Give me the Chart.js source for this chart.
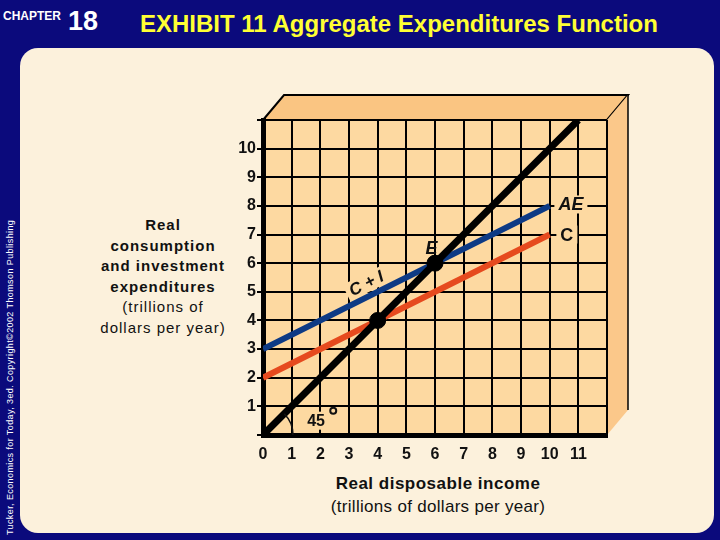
<!DOCTYPE html>
<html>
<head>
<meta charset="utf-8">
<script src="https://cdn.jsdelivr.net/npm/chart.js@4.4.1/dist/chart.umd.min.js"></script>
<style>
  body { margin:0; width:720px; height:540px; background:#0b0a7c; position:relative; overflow:hidden;
         font-family:"Liberation Sans", Arial, sans-serif; }
  .panel { position:absolute; left:20px; top:48px; width:694px; height:485px; background:#fcf1dc; border-radius:18px; }
  .chap { position:absolute; left:3px; top:9px; color:#fff; font-weight:bold; font-size:12px; }
  .num { position:absolute; left:68px; top:6px; color:#fff; font-weight:bold; font-size:27px; }
  .title { position:absolute; left:140px; top:10px; color:#ffff33; font-weight:bold; font-size:24px; white-space:nowrap; }
  .side { position:absolute; left:-145px; top:375px; width:310px; text-align:center; color:#fff; font-size:9px;
          letter-spacing:0.4px; transform:rotate(-90deg); white-space:nowrap; }
  .ytitle { position:absolute; left:88px; top:215px; width:150px; text-align:center; font-size:15px; line-height:20.5px;
            letter-spacing:1px; color:#111; }
  .ytitle b { font-weight:bold; }
  .xtitle { position:absolute; left:288px; top:473px; width:300px; text-align:center; color:#111; }
  .xtitle .a { font-weight:bold; font-size:17px; letter-spacing:0.5px; line-height:22px; }
  .xtitle .b { font-size:17px; letter-spacing:0.3px; line-height:24px; }
  #wrap { position:absolute; left:0; top:0; width:720px; height:540px; }
</style>
</head>
<body>
<div class="panel"></div>
<div class="chap">CHAPTER</div>
<div class="num">18</div>
<div class="title">EXHIBIT 11 Aggregate Expenditures Function</div>
<div class="side">Tucker, Economics for Today, 3ed. Copyright©2002 Thomson Publishing</div>
<div class="ytitle"><b>Real<br>consumption<br>and investment<br>expenditures</b><br>(trillions of<br>dollars per year)</div>
<div class="xtitle"><div class="a">Real disposable income</div><div class="b">(trillions of dollars per year)</div></div>
<div id="wrap"><canvas id="c" width="720" height="540"></canvas></div>
<script>
// values (trillions of dollars)
const income = [0, 10];          // x range of the C and AE lines
const consumption = [2, 7];      // C
const aggExpend = [3, 8];        // AE = C + I
const line45 = [0, 11];          // 45 degree line, x = y
const eqIncome = [4, 6];         // points where C and AE meet the 45 degree line
const xTicks = [0, 1, 2, 3, 4, 5, 6, 7, 8, 9, 10, 11];
const yTicks = [1, 2, 3, 4, 5, 6, 7, 8, 9, 10];

const pts = (xs, ys) => xs.map((x, i) => ({ x, y: ys[i] }));

const box3d = {
  id: 'box3d',
  beforeDraw(chart) {
    const { ctx, chartArea: a } = chart;
    const dx = 21, dy = 25;
    ctx.save();
    ctx.strokeStyle = '#000'; ctx.lineWidth = 2;
    ctx.fillStyle = '#fac582';
    ctx.beginPath();
    ctx.moveTo(a.left, a.top); ctx.lineTo(a.left + dx, a.top - dy);
    ctx.lineTo(a.right + dx, a.top - dy); ctx.lineTo(a.right, a.top);
    ctx.closePath(); ctx.fill(); ctx.stroke();
    ctx.fillStyle = '#fbc88a';
    ctx.beginPath();
    ctx.moveTo(a.right, a.top); ctx.lineTo(a.right + dx, a.top - dy);
    ctx.lineTo(a.right + dx, a.bottom - dy); ctx.lineTo(a.right, a.bottom);
    ctx.closePath(); ctx.fill();
    ctx.lineWidth = 1.5;
    ctx.beginPath(); ctx.moveTo(a.right + dx, a.top - dy); ctx.lineTo(a.right + dx, a.bottom - dy); ctx.stroke();
    ctx.fillStyle = '#fdd9a1';
    ctx.fillRect(a.left, a.top, a.right - a.left, a.bottom - a.top);
    ctx.restore();
  }
};

const labels = {
  id: 'labels',
  afterDatasetsDraw(chart) {
    const { ctx } = chart;
    const xs = chart.scales.x, ys = chart.scales.y;
    const put = (txt, x, y, font, rot) => {
      const px = xs.getPixelForValue(x), py = ys.getPixelForValue(y);
      ctx.save();
      ctx.translate(px, py);
      if (rot) ctx.rotate(rot);
      ctx.font = font;
      const w = ctx.measureText(txt).width;
      ctx.fillStyle = '#fdd9a1';
      ctx.fillRect(-w / 2 - 4, -9, w + 8, 18);
      ctx.fillStyle = '#111';
      ctx.textAlign = 'center'; ctx.textBaseline = 'middle';
      ctx.fillText(txt, 0, 1);
      ctx.restore();
    };
    put('AE', 10.74, 8.05, 'italic bold 18px "Liberation Sans"');
    put('C', 10.6, 7.0, 'bold 18px "Liberation Sans"');
    put('C + I', 3.6, 5.3, 'italic bold 17px "Liberation Sans"', -Math.atan(0.5));
    // E label without mask
    ctx.save();
    ctx.font = 'italic bold 18px "Liberation Sans"';
    ctx.fillStyle = '#111'; ctx.textAlign = 'center'; ctx.textBaseline = 'middle';
    ctx.fillText('E', xs.getPixelForValue(5.88), ys.getPixelForValue(6.5));
    ctx.restore();
    put('45', 1.85, 0.5, 'bold 16px "Liberation Sans"');
    // degree sign and angle arc
    const ox = xs.getPixelForValue(0), oy = ys.getPixelForValue(0);
    ctx.save();
    ctx.strokeStyle = '#111'; ctx.lineWidth = 2;
    ctx.beginPath(); ctx.arc(xs.getPixelForValue(2.45), ys.getPixelForValue(0.85), 3, 0, Math.PI * 2); ctx.stroke();
    ctx.lineWidth = 1.5;
    ctx.beginPath(); ctx.arc(ox, oy, 30, -Math.PI / 4, 0); ctx.stroke();
    ctx.restore();
  }
};

new Chart(document.getElementById('c'), {
  type: 'scatter',
  data: {
    datasets: [
      { data: pts(eqIncome, eqIncome), backgroundColor: '#000', borderColor: '#000', pointRadius: 8, showLine: false, order: 0 },
      { data: pts(line45, line45), borderColor: '#000', borderWidth: 7, showLine: true, pointRadius: 0, order: 1 },
      { data: pts(income, aggExpend), borderColor: '#0d3a85', borderWidth: 6, showLine: true, pointRadius: 0, order: 2 },
      { data: pts(income, consumption), borderColor: '#e64a1e', borderWidth: 6, showLine: true, pointRadius: 0, order: 3 }
    ]
  },
  options: {
    responsive: false,
    animation: false,
    layout: { padding: { left: 0, top: 120, right: 113, bottom: 75 } },
    plugins: { legend: { display: false }, tooltip: { enabled: false } },
    scales: {
      x: {
        type: 'linear', min: 0, max: 12,
        afterFit: s => { s.height = 30; },
        grid: { color: '#000', lineWidth: 2, drawTicks: false },
        border: { color: '#000', width: 5 },
        ticks: { stepSize: 1, autoSkip: false, padding: 10, color: '#111',
                 font: { family: 'Liberation Sans', weight: 'bold', size: 16 },
                 callback: v => xTicks.includes(v) ? String(v) : '' }
      },
      y: {
        type: 'linear', min: 0, max: 11,
        afterFit: s => { s.width = 263; },
        grid: { color: '#000', lineWidth: 2, tickLength: 6 },
        border: { color: '#000', width: 5 },
        ticks: { stepSize: 1, autoSkip: false, padding: 1, color: '#111',
                 font: { family: 'Liberation Sans', weight: 'bold', size: 16 },
                 callback: v => yTicks.includes(v) ? String(v) : '' }
      }
    }
  },
  plugins: [box3d, labels]
});
</script>
</body>
</html>
